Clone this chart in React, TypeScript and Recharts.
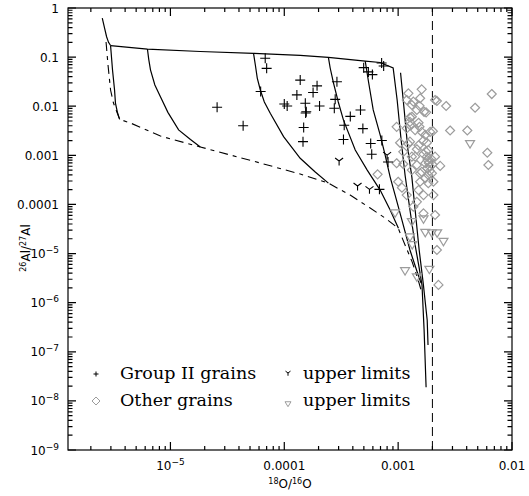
import React from 'react';
import {
  ScatterChart,
  Scatter,
  XAxis,
  YAxis,
  ReferenceLine,
  Customized,
} from 'recharts';

type Pt = { x: number; y: number };

// axis ranges (18O/16O, 26Al/27Al)
const X_MIN = 1.26e-6;
const X_MAX = 0.01;
const Y_MIN = 1e-9;
const Y_MAX = 1;
const SOLAR_O18 = 0.002;

const X_MAJOR = [1e-5, 1e-4, 1e-3, 1e-2];
const X_LABELS = ['10^-5', '0.0001', '0.001', '0.01'];
const Y_MAJOR = [1, 0.1, 0.01, 0.001, 1e-4, 1e-5, 1e-6, 1e-7, 1e-8, 1e-9];
const Y_LABELS = ['1', '0.1', '0.01', '0.001', '0.0001', '10^-5', '10^-6', '10^-7', '10^-8', '10^-9'];

// Group II grains
const groupII: Pt[] = [
  { x: 6.8e-5, y: 0.095 }, { x: 7.0e-5, y: 0.059 }, { x: 6.2e-5, y: 0.02 },
  { x: 1.38e-4, y: 0.034 }, { x: 1.94e-4, y: 0.026 }, { x: 1.79e-4, y: 0.019 },
  { x: 1.29e-4, y: 0.017 }, { x: 1.0e-4, y: 0.0111 }, { x: 1.06e-4, y: 0.0101 },
  { x: 1.53e-4, y: 0.0115 }, { x: 2.04e-4, y: 0.0101 }, { x: 1.56e-4, y: 0.0077 },
  { x: 1.54e-4, y: 0.0073 }, { x: 1.48e-4, y: 0.0037 }, { x: 1.46e-4, y: 0.0019 },
  { x: 2.57e-5, y: 0.0095 }, { x: 4.35e-5, y: 0.004 }, { x: 2.9e-4, y: 0.0316 },
  { x: 2.8e-4, y: 0.0138 }, { x: 2.75e-4, y: 0.0091 }, { x: 3.8e-4, y: 0.0062 },
  { x: 4.67e-4, y: 0.0084 }, { x: 3.36e-4, y: 0.0041 }, { x: 4.9e-4, y: 0.0035 },
  { x: 3.31e-4, y: 0.0021 }, { x: 5.74e-4, y: 0.00174 }, { x: 5.86e-4, y: 0.00105 },
  { x: 4.98e-4, y: 0.061 }, { x: 5.48e-4, y: 0.05 }, { x: 5.94e-4, y: 0.044 },
  { x: 7.16e-4, y: 0.076 }, { x: 7.46e-4, y: 0.066 }, { x: 7.19e-4, y: 0.002 },
  { x: 8.15e-4, y: 7.3e-4 }, { x: 6.85e-4, y: 2.03e-4 },
];

const groupIIUpper: Pt[] = [
  { x: 3.03e-4, y: 7.65e-4 }, { x: 4.4e-4, y: 2.37e-4 },
  { x: 5.6e-4, y: 2.03e-4 }, { x: 8.0e-4, y: 1.01e-3 },
];

// other grains
const otherGrains: Pt[] = [
  { x: 1.23e-3, y: 0.0183 }, { x: 1.61e-3, y: 0.0221 }, { x: 1.19e-3, y: 0.0134 },
  { x: 1.36e-3, y: 0.0124 }, { x: 1.56e-3, y: 0.0145 }, { x: 2.11e-3, y: 0.0134 },
  { x: 2.64e-3, y: 0.0101 }, { x: 6.64e-3, y: 0.0177 }, { x: 4.74e-3, y: 0.0093 },
  { x: 1.46e-3, y: 0.0084 }, { x: 1.76e-3, y: 0.0075 }, { x: 1.32e-3, y: 0.0061 },
  { x: 1.27e-3, y: 0.0048 }, { x: 1.51e-3, y: 0.0046 }, { x: 9.7e-4, y: 0.0038 },
  { x: 1.19e-3, y: 0.00355 }, { x: 1.41e-3, y: 0.00327 }, { x: 1.61e-3, y: 0.003 },
  { x: 1.73e-3, y: 0.0026 }, { x: 1.91e-3, y: 0.003 }, { x: 2.86e-3, y: 0.0032 },
  { x: 4.05e-3, y: 0.0032 }, { x: 1.04e-3, y: 0.0018 }, { x: 1.23e-3, y: 0.0017 },
  { x: 1.51e-3, y: 0.0016 }, { x: 1.79e-3, y: 0.0018 }, { x: 1.11e-3, y: 0.00118 },
  { x: 1.32e-3, y: 9.4e-4 }, { x: 1.67e-3, y: 1.06e-3 }, { x: 1.81e-3, y: 8.0e-4 },
  { x: 2.11e-3, y: 9.4e-4 }, { x: 2.34e-3, y: 6.1e-4 }, { x: 6.07e-3, y: 1.13e-3 },
  { x: 6.2e-3, y: 6.35e-4 }, { x: 1.46e-3, y: 6.35e-4 }, { x: 1.61e-3, y: 4.6e-4 },
  { x: 1.73e-3, y: 6.9e-4 }, { x: 6.6e-4, y: 4.1e-4 }, { x: 9.7e-4, y: 6.9e-4 },
  { x: 2.19e-3, y: 0.0128 }, { x: 1.32e-3, y: 0.0106 }, { x: 1.54e-3, y: 0.0102 },
  { x: 1.69e-3, y: 0.0077 }, { x: 1.27e-3, y: 0.0059 }, { x: 1.27e-3, y: 0.0041 },
  { x: 1.54e-3, y: 0.0038 }, { x: 2.02e-3, y: 0.0031 }, { x: 1.27e-3, y: 0.0019 },
  { x: 1.67e-3, y: 0.002 }, { x: 1.46e-3, y: 0.00133 }, { x: 1.84e-3, y: 0.00128 },
  { x: 1.79e-3, y: 9.4e-4 }, { x: 1.41e-3, y: 9.4e-4 }, { x: 1.11e-3, y: 6.65e-4 },
  { x: 1.91e-3, y: 5.9e-4 }, { x: 1.32e-3, y: 5.0e-4 }, { x: 1.84e-3, y: 4.0e-4 },
  { x: 1.56e-3, y: 4.3e-4 }, { x: 1.98e-3, y: 4.3e-4 }, { x: 1.0e-3, y: 2.9e-4 },
  { x: 1.08e-3, y: 2.2e-4 }, { x: 1.19e-3, y: 1.55e-4 }, { x: 1.56e-3, y: 2.9e-4 },
  { x: 1.73e-3, y: 3.4e-4 }, { x: 1.84e-3, y: 2.7e-4 }, { x: 1.51e-3, y: 1.96e-4 },
  { x: 1.67e-3, y: 1.55e-4 }, { x: 2.04e-3, y: 1.55e-4 }, { x: 1.46e-3, y: 1.13e-4 },
  { x: 1.36e-3, y: 9.0e-5 }, { x: 2.11e-3, y: 6.1e-5 }, { x: 1.67e-3, y: 6.6e-5 },
  { x: 2.19e-3, y: 1.18e-5 }, { x: 2.26e-3, y: 2.3e-6 }, { x: 2.04e-3, y: 2.9e-4 },
  { x: 1.86e-3, y: 7.0e-4 }, { x: 1.95e-3, y: 8.5e-4 }, { x: 1.9e-3, y: 4.8e-4 },
  { x: 1.8e-3, y: 5.5e-4 }, { x: 2.0e-3, y: 6.5e-4 }, { x: 1.75e-3, y: 1.2e-3 },
];

const otherUpper: Pt[] = [
  { x: 4.28e-3, y: 1.7e-3 }, { x: 9.4e-4, y: 6.6e-5 }, { x: 1.32e-3, y: 4.4e-5 },
  { x: 1.67e-3, y: 5.0e-5 }, { x: 1.73e-3, y: 2.65e-5 }, { x: 1.98e-3, y: 2.6e-5 },
  { x: 2.2e-3, y: 2.6e-5 }, { x: 2.5e-3, y: 1.74e-5 }, { x: 1.27e-3, y: 2.14e-5 },
  { x: 1.33e-3, y: 1.49e-5 }, { x: 1.15e-3, y: 4.4e-6 }, { x: 1.46e-3, y: 3.3e-6 },
  { x: 1.88e-3, y: 4.7e-6 },
];

// model curves
const modelEdge: Pt[] = [
  { x: 2.52e-6, y: 0.62 }, { x: 2.64e-6, y: 0.39 }, { x: 2.75e-6, y: 0.26 },
  { x: 2.86e-6, y: 0.2 }, { x: 2.98e-6, y: 0.172 },
];
const modelTop: Pt[] = [
  { x: 2.98e-6, y: 0.172 }, { x: 6.28e-6, y: 0.146 }, { x: 1.83e-5, y: 0.13 },
  { x: 5.37e-5, y: 0.1195 }, { x: 1.38e-4, y: 0.108 }, { x: 2.44e-4, y: 0.099 },
  { x: 5.14e-4, y: 0.083 }, { x: 6.95e-4, y: 0.0776 }, { x: 9.04e-4, y: 0.06 },
  { x: 9.8e-4, y: 0.0134 }, { x: 1.062e-3, y: 0.00205 }, { x: 1.15e-3, y: 3.97e-4 },
  { x: 1.27e-3, y: 7.7e-5 }, { x: 1.41e-3, y: 1.49e-5 }, { x: 1.53e-3, y: 5.1e-6 },
  { x: 1.62e-3, y: 2.28e-6 }, { x: 1.69e-3, y: 2.8e-7 }, { x: 1.76e-3, y: 1.9e-8 },
];
const model1: Pt[] = [
  { x: 2.98e-6, y: 0.172 }, { x: 3.1e-6, y: 0.0546 }, { x: 3.23e-6, y: 0.0214 },
  { x: 3.29e-6, y: 0.0116 }, { x: 3.42e-6, y: 0.0076 }, { x: 3.58e-6, y: 0.0054 },
];
const model2: Pt[] = [
  { x: 6.28e-6, y: 0.146 }, { x: 6.45e-6, y: 0.09 }, { x: 6.68e-6, y: 0.055 },
  { x: 7.3e-6, y: 0.027 }, { x: 8.17e-6, y: 0.0156 }, { x: 9.5e-6, y: 0.0075 },
  { x: 1.18e-5, y: 0.0033 }, { x: 1.5e-5, y: 0.0021 }, { x: 1.83e-5, y: 0.00148 },
];
const model3: Pt[] = [
  { x: 5.37e-5, y: 0.1195 }, { x: 5.57e-5, y: 0.069 }, { x: 5.79e-5, y: 0.0375 },
  { x: 6.16e-5, y: 0.0214 }, { x: 6.68e-5, y: 0.0122 }, { x: 7.53e-5, y: 0.0072 },
  { x: 9.86e-5, y: 0.0024 }, { x: 1.38e-4, y: 8.7e-4 }, { x: 1.87e-4, y: 4.57e-4 },
  { x: 2.44e-4, y: 2.72e-4 },
];
const model4: Pt[] = [
  { x: 2.44e-4, y: 0.099 }, { x: 2.53e-4, y: 0.06 }, { x: 2.71e-4, y: 0.0293 },
  { x: 2.98e-4, y: 0.0122 }, { x: 3.31e-4, y: 0.0052 }, { x: 4.2e-4, y: 0.00128 },
  { x: 5.35e-4, y: 5.0e-4 }, { x: 6.95e-4, y: 1.96e-4 }, { x: 8.51e-4, y: 7.7e-5 },
  { x: 1.006e-3, y: 3.26e-5 },
];
const model5: Pt[] = [
  { x: 5.14e-4, y: 0.083 }, { x: 5.46e-4, y: 0.0342 }, { x: 6.04e-4, y: 0.0084 },
  { x: 6.95e-4, y: 0.0026 }, { x: 7.69e-4, y: 0.00101 }, { x: 8.51e-4, y: 3.61e-4 },
  { x: 9.41e-4, y: 1.55e-4 }, { x: 1.08e-3, y: 4.81e-5 }, { x: 1.27e-3, y: 1.18e-5 },
  { x: 1.47e-3, y: 4.2e-6 }, { x: 1.59e-3, y: 2.5e-6 },
];
const model6: Pt[] = [
  { x: 1.05e-3, y: 0.048 }, { x: 1.13e-3, y: 0.0084 }, { x: 1.22e-3, y: 0.00128 },
  { x: 1.32e-3, y: 3.6e-4 }, { x: 1.41e-3, y: 7.7e-5 }, { x: 1.53e-3, y: 1.18e-5 },
  { x: 1.66e-3, y: 2.5e-6 }, { x: 1.8e-3, y: 4.4e-7 }, { x: 1.83e-3, y: 1.37e-7 },
];
const lowerEnvelope: Pt[] = [
  { x: 2.72e-6, y: 0.203 }, { x: 2.83e-6, y: 0.069 }, { x: 2.98e-6, y: 0.0214 },
  { x: 3.16e-6, y: 0.0116 }, { x: 3.36e-6, y: 0.008 }, { x: 3.58e-6, y: 0.0054 },
  { x: 4.46e-6, y: 0.00455 }, { x: 8.17e-6, y: 0.00247 }, { x: 1.83e-5, y: 0.00148 },
  { x: 6.16e-5, y: 6.97e-4 }, { x: 1.38e-4, y: 4.16e-4 }, { x: 2.43e-4, y: 2.73e-4 },
  { x: 3.79e-4, y: 1.55e-4 }, { x: 5.68e-4, y: 8.45e-5 }, { x: 7.69e-4, y: 5.28e-5 },
  { x: 1.0e-3, y: 3.3e-5 }, { x: 1.15e-3, y: 1.49e-5 }, { x: 1.33e-3, y: 6.7e-6 },
  { x: 1.5e-3, y: 2.9e-6 }, { x: 1.59e-3, y: 1.8e-6 },
];

const solidCurves = [modelEdge, modelTop, model1, model2, model3, model4, model5, model6];

const W = 529;
const H = 496;
const PLOT = { left: 68, right: 512, top: 8, bottom: 450 };
const GRAY = '#9c9c9c';
const TICK_FONT = '"DejaVu Sans", sans-serif';

function minorTicks(lo: number, hi: number) {
  const out: number[] = [];
  for (let e = -10; e <= 0; e++) {
    for (let m = 2; m <= 9; m++) {
      const v = m * Math.pow(10, e);
      if (v > lo && v < hi) out.push(v);
    }
  }
  return out;
}

const xMinor = minorTicks(X_MIN, X_MAX);
const yMinor = minorTicks(Y_MIN, Y_MAX);

// frame tick placement on the same log mapping the axes use
const xPos = (v: number) =>
  PLOT.left + ((Math.log10(v) - Math.log10(X_MIN)) / (Math.log10(X_MAX) - Math.log10(X_MIN))) * (PLOT.right - PLOT.left);
const yPos = (v: number) =>
  PLOT.bottom - ((Math.log10(v) - Math.log10(Y_MIN)) / (Math.log10(Y_MAX) - Math.log10(Y_MIN))) * (PLOT.bottom - PLOT.top);

function majorIndex(list: number[], v: number) {
  return list.findIndex((m) => Math.abs(m - v) / m < 1e-6);
}

function tickText(label: string, x: number, y: number, anchor: 'middle' | 'end') {
  const parts = label.split('^');
  return (
    <text x={x} y={y} textAnchor={anchor} fontFamily={TICK_FONT} fontSize={12} fill="#000" stroke="none">
      <tspan>{parts[0]}</tspan>
      {parts[1] && (
        <tspan dy={-5} fontSize={9}>
          {parts[1].replace('-', '\u2212')}
        </tspan>
      )}
    </text>
  );
}

function XLabel(props: any) {
  const idx = majorIndex(X_MAJOR, props.payload.value);
  if (idx < 0) return <g />;
  return tickText(X_LABELS[idx], props.x, PLOT.bottom + 20, 'middle');
}

function YLabel(props: any) {
  const idx = majorIndex(Y_MAJOR, props.payload.value);
  if (idx < 0) return <g />;
  return tickText(Y_LABELS[idx], PLOT.left - 9, props.y + 4.5, 'end');
}

function tickMarks() {
  let d = '';
  const xs = [...X_MAJOR.map((v) => [v, 8]), ...xMinor.map((v) => [v, 4])];
  xs.forEach(([v, len]) => {
    const x = xPos(v);
    d += `M${x},${PLOT.bottom}V${PLOT.bottom - len}M${x},${PLOT.top}V${PLOT.top + len}`;
  });
  const ys = [...Y_MAJOR.map((v) => [v, 8]), ...yMinor.map((v) => [v, 4.5])];
  ys.forEach(([v, len]) => {
    const y = yPos(v);
    d += `M${PLOT.left},${y}H${PLOT.left + len}M${PLOT.right},${y}H${PLOT.right - len}`;
  });
  return d;
}

const plusPath = (cx: number, cy: number, r: number) =>
  `M${cx - r},${cy}H${cx + r}M${cx},${cy - r}V${cy + r}`;
const yPath = (cx: number, cy: number, r: number) =>
  `M${cx - r},${cy - r * 0.75}L${cx},${cy}L${cx + r},${cy - r * 0.75}M${cx},${cy}V${cy + r * 1.1}`;
const diamondPath = (cx: number, cy: number, r: number) =>
  `M${cx},${cy - r}L${cx + r},${cy}L${cx},${cy + r}L${cx - r},${cy}Z`;
const triPath = (cx: number, cy: number, r: number) =>
  `M${cx - r},${cy - r * 0.75}L${cx + r},${cy - r * 0.75}L${cx},${cy + r * 0.9}Z`;

const PlusShape = (p: any) => <path d={plusPath(p.cx, p.cy, 5)} stroke="#000" strokeWidth={1.1} fill="none" />;
const YShape = (p: any) => <path d={yPath(p.cx, p.cy, 4)} stroke="#000" strokeWidth={1.1} fill="none" />;
const DiamondShape = (p: any) => <path d={diamondPath(p.cx, p.cy, 4.5)} stroke={GRAY} strokeWidth={1.2} fill="none" />;
const TriShape = (p: any) => <path d={triPath(p.cx, p.cy, 4.5)} stroke={GRAY} strokeWidth={1.2} fill="none" />;
const NoShape = () => <g />;

function Annotations() {
  return (
    <g>
      <rect
        x={PLOT.left}
        y={PLOT.top}
        width={PLOT.right - PLOT.left}
        height={PLOT.bottom - PLOT.top}
        fill="none"
        stroke="#000"
        strokeWidth={1.2}
      />
      <path d={tickMarks()} stroke="#000" strokeWidth={1.2} fill="none" />
      <g fontFamily='"DejaVu Serif", serif' fontSize={17.5} fill="#000">
        <path d={plusPath(96, 374, 2.5)} stroke="#000" strokeWidth={1} fill="none" />
        <text x={120} y={379}>Group II grains</text>
        <path d={diamondPath(96, 401, 4)} stroke={GRAY} strokeWidth={1} fill="none" />
        <text x={120} y={406}>Other grains</text>
        <path d={yPath(288, 373, 2.5)} stroke="#000" strokeWidth={1} fill="none" />
        <text x={303} y={379}>upper limits</text>
        <path d={triPath(288, 404, 3)} stroke={GRAY} strokeWidth={1} fill="none" />
        <text x={303} y={406}>upper limits</text>
      </g>
      <text x={290} y={488} textAnchor="middle" fontFamily={TICK_FONT} fontSize={12} fill="#000">
        <tspan fontSize={8} dy={-4}>18</tspan>
        <tspan dy={4}>O/</tspan>
        <tspan fontSize={8} dy={-4}>16</tspan>
        <tspan dy={4}>O</tspan>
      </text>
      <text
        transform="translate(30,248) rotate(-90)"
        textAnchor="middle"
        fontFamily={TICK_FONT}
        fontSize={12}
        fill="#000"
      >
        <tspan fontSize={8} dy={-4}>26</tspan>
        <tspan dy={4}>Al/</tspan>
        <tspan fontSize={8} dy={-4}>27</tspan>
        <tspan dy={4}>Al</tspan>
      </text>
    </g>
  );
}

export default function App() {
  return (
    <div style={{ position: 'absolute', left: 0, top: 0, background: '#fff' }}>
      <ScatterChart
        width={W}
        height={H}
        margin={{ top: PLOT.top, right: W - PLOT.right, left: 0, bottom: 0 }}
      >
        <XAxis
          type="number"
          dataKey="x"
          scale="log"
          domain={[X_MIN, X_MAX]}
          allowDataOverflow
          ticks={X_MAJOR}
          interval={0}
          tick={(p: any) => <XLabel {...p} />}
          tickLine={false}
          axisLine={false}
          height={H - PLOT.bottom}
        />
        <YAxis
          type="number"
          dataKey="y"
          scale="log"
          domain={[Y_MIN, Y_MAX]}
          allowDataOverflow
          ticks={Y_MAJOR}
          interval={0}
          tick={(p: any) => <YLabel {...p} />}
          tickLine={false}
          axisLine={false}
          width={PLOT.left}
        />
        <ReferenceLine x={SOLAR_O18} stroke="#000" strokeWidth={1} strokeDasharray="9 5" />
        {solidCurves.map((c, i) => (
          <Scatter
            key={'m' + i}
            data={c}
            line={{ stroke: '#000', strokeWidth: 1.2 }}
            lineType="joint"
            shape={NoShape}
            isAnimationActive={false}
          />
        ))}
        <Scatter
          data={lowerEnvelope}
          line={{ stroke: '#000', strokeWidth: 1.1, strokeDasharray: '9 5 4 5' }}
          lineType="joint"
          shape={NoShape}
          isAnimationActive={false}
        />
        <Scatter data={otherGrains} shape={DiamondShape} isAnimationActive={false} />
        <Scatter data={otherUpper} shape={TriShape} isAnimationActive={false} />
        <Scatter data={groupII} shape={PlusShape} isAnimationActive={false} />
        <Scatter data={groupIIUpper} shape={YShape} isAnimationActive={false} />
        <Customized component={Annotations} />
      </ScatterChart>
    </div>
  );
}
